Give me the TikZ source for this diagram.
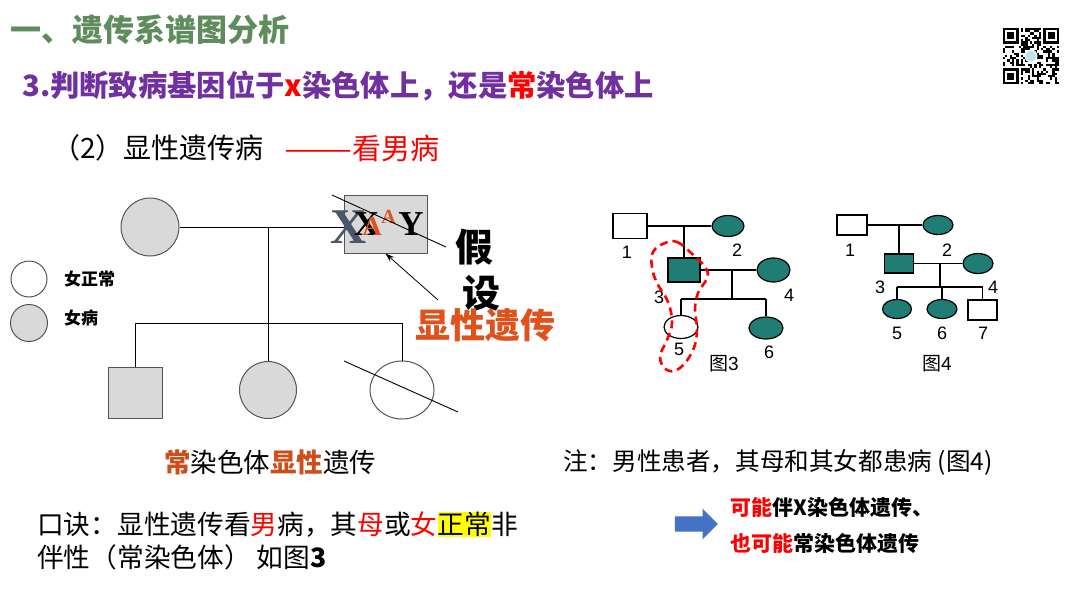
\documentclass[tikz,border=0pt]{standalone}
\usepackage{fontspec}
\setmainfont{Noto Sans CJK SC}
\newfontfamily\digitfont{Liberation Sans}
\newfontfamily\xayfont{Liberation Serif}
\usetikzlibrary{arrows.meta,shapes.geometric,shapes.arrows}
\definecolor{titleGreen}{HTML}{5E8C5D}
\definecolor{subPurple}{HTML}{7030A0}
\definecolor{hotRed}{HTML}{FF0000}
\definecolor{warmRed}{HTML}{E0511B}
\definecolor{rustRed}{HTML}{CC4E1A}
\definecolor{lightGray}{HTML}{D9D9D9}
\definecolor{edgeGray}{HTML}{555555}
\definecolor{slateX}{HTML}{4A566A}
\definecolor{sickTeal}{HTML}{1F7D74}
\definecolor{markYellow}{HTML}{FFFF00}
\definecolor{arrowBlue}{HTML}{4472C4}
\definecolor{logoBlue}{HTML}{BFE3EE}
\newcommand{\fsz}[1]{\fontsize{#1}{#1}\selectfont}
\newcommand{\hot}[1]{\textcolor{hotRed}{#1}}

\begin{document}
\begin{tikzpicture}[x=1pt, y=-1pt,
  fem/.style={ellipse, draw=edgeGray, line width=1pt, inner sep=0pt},
  mal/.style={rectangle, draw=edgeGray, line width=1pt, inner sep=0pt},
  rfem/.style={ellipse, draw=black, line width=1.2pt, inner sep=0pt},
  rmal/.style={rectangle, draw=black, line width=1.2pt, inner sep=0pt},
  link/.style={draw=black, line width=0.9pt},
  rlink/.style={draw=black, line width=1.3pt},
  num/.style={font=\digitfont\fsz{18}, inner sep=0pt},
  txt/.style={inner sep=0pt, anchor=west},
  xay/.style={inner sep=0pt, anchor=base},
  arr/.style={-{Stealth[length=9pt,width=6pt]}, black, line width=0.8pt}
]
\useasboundingbox[fill=white] (0,0) rectangle (1080,608);

\node[txt, font=\fsz{31}\bfseries, text=titleGreen] (title) at (10,30) {一、遗传系谱图分析};
\node[txt, font=\fsz{29.3}\bfseries, text=subPurple] (task) at (22,86)
  {3.判断致病基因位于\hot{x}染色体上，还是\hot{常}染色体上};
\node[txt, font=\fsz{28}] (part) at (52,148) {（2）显性遗传病};
\node[txt, font=\fsz{29}, text=hotRed] (look) at (284,148) {\scalebox{1.4}[1]{——}看男病};

\node[fem, fill=lightGray, minimum width=58pt, minimum height=58pt] (mom) at (150,227) {};
\node[mal, fill=lightGray, minimum width=83pt, minimum height=58pt] (dad) at (385.5,224) {};
\coordinate (m0) at (268,227);
\coordinate (s0) at (268,323);
\node[mal, fill=lightGray, minimum width=54pt, minimum height=51pt] (son) at (135,392.5) {};
\node[fem, fill=lightGray, minimum width=57pt, minimum height=57pt] (dau1) at (268,390) {};
\node[fem, fill=white, minimum width=64pt, minimum height=58pt] (dau2) at (402,390) {};
\draw[link] (mom.east) -- (m0 -| dad.west);
\draw[link] (m0) -- (dau1.north);
\draw[link] (s0 -| son) -- (s0 -| dau2);
\draw[link] (s0 -| son) -- (son.north);
\draw[link] (s0 -| dau2) -- (dau2.north);
\draw[black, line width=0.9pt] (344,361) -- (458,412);

\node[xay, text=slateX, font=\xayfont\bfseries\fsz{50}] (xbig) at (349,243) {X};
\node[xay, font=\xayfont\bfseries\fsz{35}] (xblack) at (366.5,235) {X};
\node[xay, font=\xayfont\bfseries\fsz{27}, text=warmRed] (abig) at (372,235) {A};
\node[xay, font=\xayfont\bfseries\fsz{20}, text=warmRed] (asmall) at (388.5,223) {A};
\node[xay, font=\xayfont\bfseries\fsz{35}] (ylet) at (411,235) {Y};
\draw[black, line width=0.9pt] (332,195) -- (446,247);

\node[font=\fsz{38}\bfseries, inner sep=0pt] (jia) at (474,247) {假};
\node[font=\fsz{38}\bfseries, inner sep=0pt] (she) at (481,293) {设};
\node[font=\fsz{35}\bfseries, text=warmRed, inner sep=0pt] (dom) at (485,325) {显性遗传};
\coordinate (hint) at (438,300);
\draw[arr] (hint) -- (dad.south);

\node[fem, fill=white, minimum size=36pt] (keyA) at (29,279) {};
\node[fem, fill=lightGray, minimum size=37pt] (keyB) at (29,323) {};
\node[txt, font=\fsz{17}\bfseries] (keyAt) at (64,279) {女正常};
\node[txt, font=\fsz{17}\bfseries] (keyBt) at (64,318) {女病};

\node[font=\fsz{26.5}, inner sep=0pt] (verdict) at (270,462)
  {\textcolor{rustRed}{\bfseries 常}染色体\textcolor{rustRed}{\bfseries 显性}遗传};
\node[txt, font=\fsz{26.7}] (rule1) at (37,525)
  {口诀：显性遗传看\hot{男}病，其\hot{母}或\hot{女}{\setlength{\fboxsep}{0pt}\colorbox{markYellow}{正常}}非};
\node[txt, font=\fsz{26.7}] (rule2) at (37,557) {伴性（常染色体） 如图\textbf{3}};

\node[txt, font=\fsz{24.6}] (note) at (563,462) {注：男性患者，其母和其女都患病 (图4)};
\node[single arrow, fill=arrowBlue, minimum height=43pt, inner sep=7.5pt,
      single arrow head extend=7.5pt] (bigarrow) at (692.5,524) {};
\node[txt, font=\fsz{21}\bfseries] (maybe1) at (730,507) {\hot{可能}伴X染色体遗传、};
\node[txt, font=\fsz{21}\bfseries] (maybe2) at (730,543) {\hot{也可能}常染色体遗传};

\node[rmal, fill=white, minimum width=34pt, minimum height=25pt] (a1) at (630,226) {};
\node[rfem, fill=sickTeal, minimum width=32pt, minimum height=21pt] (a2) at (728,226) {};
\coordinate (a0) at (684,226);
\node[rmal, fill=sickTeal, minimum width=32pt, minimum height=24pt] (a3) at (684,270) {};
\node[rfem, fill=sickTeal, minimum width=33pt, minimum height=24pt] (a4) at (773.5,270) {};
\coordinate (b0) at (732,270);
\coordinate (b1) at (732,299);
\node[rfem, fill=white, minimum width=34pt, minimum height=23pt] (a5) at (681,327) {};
\node[rfem, fill=sickTeal, minimum width=34pt, minimum height=22pt] (a6) at (766,328) {};
\draw[rlink] (a1.east) -- (a2.west);
\draw[rlink] (a0) -- (a3.north);
\draw[rlink] (a3.east) -- (a4.west);
\draw[rlink] (b0) -- (b1);
\draw[rlink] (b1 -| a5) -- (b1 -| a6);
\draw[rlink] (b1 -| a5) -- (a5.north);
\draw[rlink] (b1 -| a6) -- (a6.north);
\node[num] (n1) at (627,252) {1};
\node[num] (n2) at (737,250) {2};
\node[num] (n3) at (659,297) {3};
\node[num] (n4) at (789,295) {4};
\node[num] (n5) at (679,349) {5};
\node[num] (n6) at (769,352) {6};
\node[font=\fsz{19}, inner sep=0pt] (fig3) at (724,364) {图{\digitfont 3}};
\draw[hotRed, line width=2.6pt, dash pattern=on 8pt off 5pt]
  plot[smooth cycle, tension=0.7] coordinates {(665,243) (677,242) (690,252) (705,267)
  (707,278) (698,293) (695,310) (697,330) (693,350) (680,368) (667,370) (660,357)
  (667,340) (672,323) (668,302) (657,283) (652,267) (653,252)};

\node[rmal, fill=white, minimum width=30pt, minimum height=20pt] (c1) at (852,225) {};
\node[rfem, fill=sickTeal, minimum width=30pt, minimum height=19pt] (c2) at (938,225) {};
\coordinate (c0) at (899,225);
\node[rmal, fill=sickTeal, minimum width=29pt, minimum height=19pt] (c3) at (899,263.5) {};
\node[rfem, fill=sickTeal, minimum width=30pt, minimum height=20pt] (c4) at (978,263.5) {};
\coordinate (d0) at (940,263.5);
\coordinate (d1) at (940,287);
\node[rfem, fill=sickTeal, minimum width=29pt, minimum height=19pt] (c5) at (897,309) {};
\node[rfem, fill=sickTeal, minimum width=30pt, minimum height=19pt] (c6) at (942,309) {};
\node[rmal, fill=white, minimum width=29pt, minimum height=20pt] (c7) at (982.5,310) {};
\draw[rlink] (c1.east) -- (c2.west);
\draw[rlink] (c0) -- (c3.north);
\draw[rlink] (c3.east) -- (c4.west);
\draw[rlink] (d0) -- (d1);
\draw[rlink] (d1 -| c5) -- (d1 -| c7);
\draw[rlink] (d1 -| c5) -- (c5.north);
\draw[rlink] (d1 -| c6) -- (c6.north);
\draw[rlink] (d1 -| c7) -- (c7.north);
\node[num] (k1) at (850,250) {1};
\node[num] (k2) at (947,250) {2};
\node[num] (k3) at (880,287) {3};
\node[num] (k4) at (993,287) {4};
\node[num] (k5) at (897,333) {5};
\node[num] (k6) at (942,333) {6};
\node[num] (k7) at (983,333) {7};
\node[font=\fsz{19}, inner sep=0pt] (fig4) at (937,364) {图{\digitfont 4}};

\pgfmathsetseed{11}
\foreach \i in {0,...,24}{
  \foreach \j in {0,...,24}{
    \pgfmathtruncatemacro{\bit}{2*rnd}
    \ifnum\bit=1 \fill (1003+\i*2.24,28+\j*2.24) rectangle ++(2.24,2.24); \fi
  }
}
\foreach \u/\v in {0/0,18/0,0/18}{
  \fill[white] (1003+\u*2.24-2.24,28+\v*2.24-2.24) rectangle ++(20.16,20.16);
  \fill[black] (1003+\u*2.24,28+\v*2.24) rectangle ++(15.68,15.68);
  \fill[white] (1003+\u*2.24+2.24,28+\v*2.24+2.24) rectangle ++(11.2,11.2);
  \fill[black] (1003+\u*2.24+4.48,28+\v*2.24+4.48) rectangle ++(6.72,6.72);
}
\fill[white] (1031,56) circle (6.5);
\fill[logoBlue] (1031,56) circle (5.5);
\end{tikzpicture}
\end{document}
